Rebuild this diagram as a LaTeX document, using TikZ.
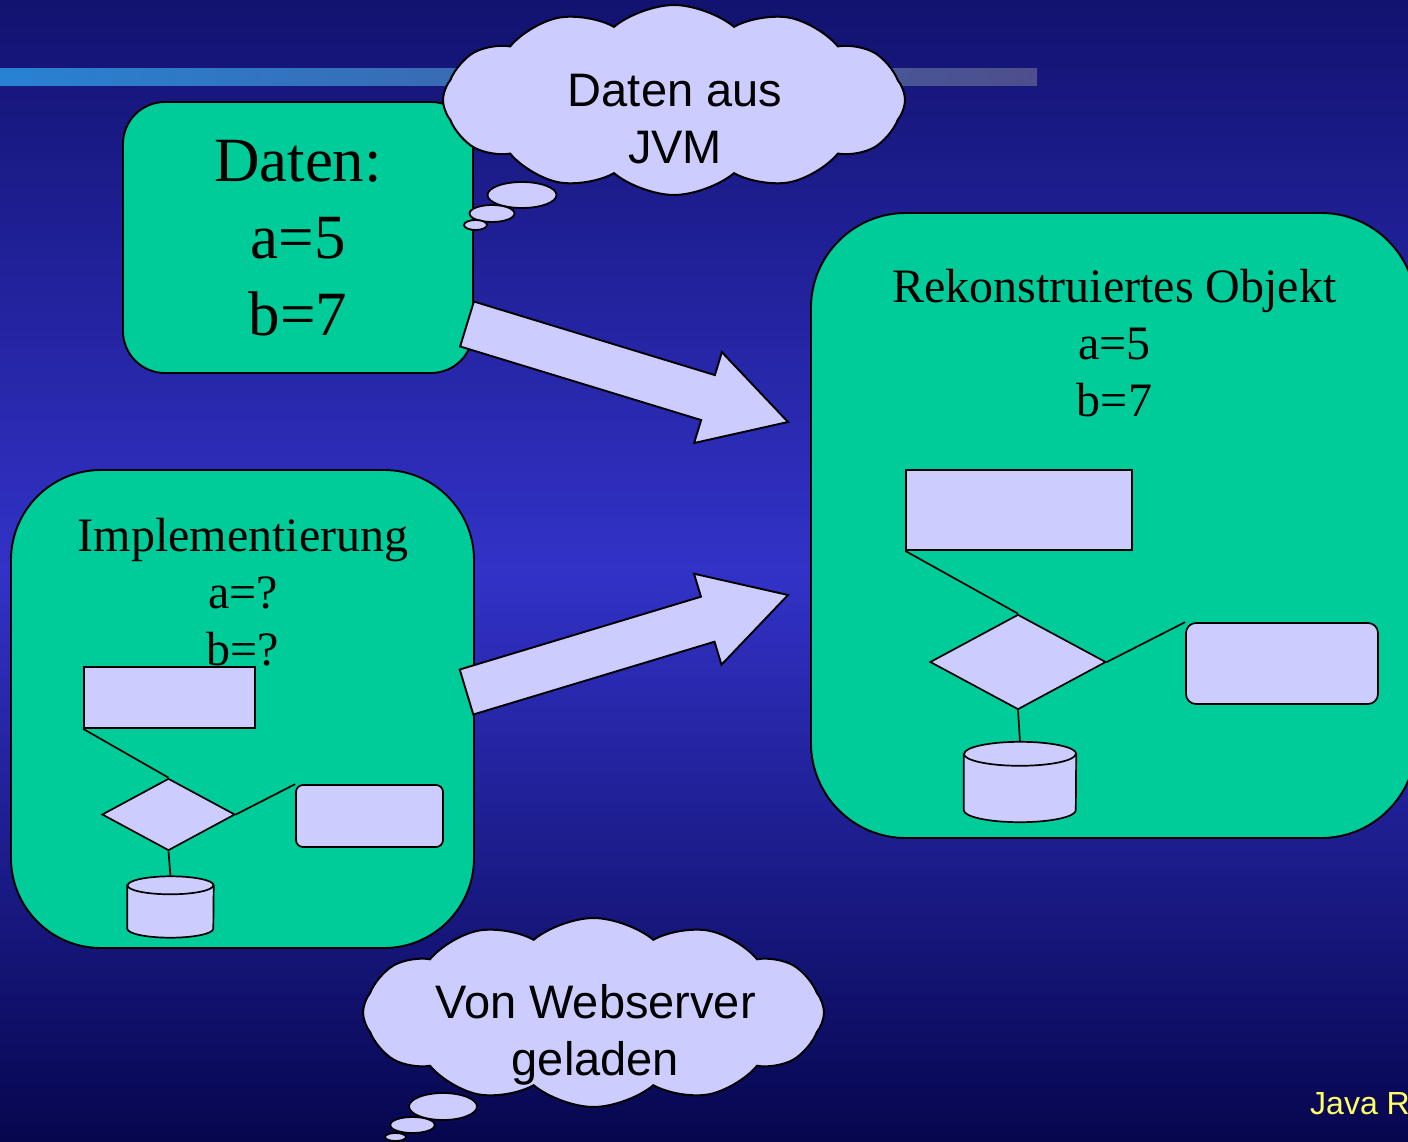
\documentclass[tikz,border=0pt]{standalone}
\usepackage{fontspec}
\setmainfont{Liberation Serif}
\setsansfont{Liberation Sans}
\usetikzlibrary{shapes.geometric, shapes.symbols, calc}
\definecolor{hgoben}{RGB}{18,18,112}
\definecolor{hgmitte}{RGB}{50,50,200}
\definecolor{hgunten}{RGB}{6,6,78}
\definecolor{tuerkis}{HTML}{00CC99}
\definecolor{lila}{HTML}{CCCCFF}
\definecolor{gelb}{RGB}{255,255,102}
\definecolor{streifenL}{RGB}{40,130,210}
\definecolor{streifenR}{RGB}{78,78,140}

\begin{document}
\begin{tikzpicture}[x=1pt, y=-1pt,
  box/.style={rectangle, draw=black, fill=tuerkis, line width=1.9pt, inner sep=0pt},
  boxtext/.style={align=center, inner sep=0pt, text=black},
  fbox/.style={rectangle, draw=black, fill=lila, line width=1.7pt, inner sep=0pt},
  fraute/.style={diamond, draw=black, fill=lila, line width=1.7pt, inner sep=0pt},
  fzylrahmen/.style={rectangle, inner sep=0pt},
  fzyl/.style={draw=black, fill=lila, line width=1.7pt},
  fline/.style={draw=black, line width=1.7pt},
  pfeil/.style={draw=black, fill=lila, line width=1.9pt, line join=miter},
  wolke/.style={cloud, cloud puffs=12, cloud puff arc=80, cloud ignores aspect, draw=black, fill=lila, line width=2pt, inner sep=0pt},
  blase/.style={ellipse, draw=black, fill=lila, line width=1.8pt, inner sep=0pt},
  wolketext/.style={align=center, inner sep=0pt, font=\sffamily\fontsize{47}{57}\selectfont}
]
\useasboundingbox (0,0) rectangle (1408,1142);
% Hintergrund
\fill[top color=hgoben, bottom color=hgunten, middle color=hgmitte] (0,0) rectangle (1408,1142);
\fill[left color=streifenL, right color=streifenR] (0,69) rectangle (1037,86);

% Daten
\node[box, rounded corners=42pt, minimum width=350pt, minimum height=271pt] (daten) at (298,237.5) {};
\node[boxtext, font=\fontsize{63}{77}\selectfont] (datentxt) at (298,238) {Daten:\\a=5\\b=7};

% Rekonstruiertes Objekt
\node[box, rounded corners=95pt, minimum width=605pt, minimum height=625pt] (rekon) at (1113.5,525.5) {};
\node[boxtext, font=\fontsize{48}{57}\selectfont] (rekontxt) at (1114.5,343) {Rekonstruiertes Objekt\\a=5\\b=7};
\node[fbox, minimum width=226pt, minimum height=80pt] (rkasten) at (1019,510) {};
\node[fraute, minimum width=176pt, minimum height=95pt] (rraute) at (1018,662) {};
\node[fbox, rounded corners=10pt, minimum width=192pt, minimum height=81pt] (rrund) at (1282,663.5) {};
\node[fzylrahmen, minimum width=112pt, minimum height=80pt] (rzyl) at (1020,782) {};
\draw[fline] (rkasten.south west) -- (rraute.north);
\draw[fline] (rraute.east) -- (rrund.north west);
\draw[fline] (rraute.south) -- (rzyl.north);

% Implementierung
\node[box, rounded corners=90pt, minimum width=463pt, minimum height=478pt] (impl) at (242.5,709) {};
\node[boxtext, font=\fontsize{48}{57}\selectfont] (impltxt) at (243,592) {Implementierung\\a=?\\b=?};
\node[fbox, minimum width=171pt, minimum height=61pt] (lkasten) at (169.5,697.5) {};
\node[fraute, minimum width=133pt, minimum height=72pt] (lraute) at (168.5,814.5) {};
\node[fbox, rounded corners=7pt, minimum width=147pt, minimum height=62pt] (lrund) at (369.5,816) {};
\node[fzylrahmen, minimum width=86pt, minimum height=61pt] (lzyl) at (170.5,907) {};
\draw[fline] (lkasten.south west) -- (lraute.north);
\draw[fline] (lraute.east) -- (lrund.north west);
\draw[fline] (lraute.south) -- (lzyl.north);

% Zylinder
\foreach \z/\rx/\ry in {rzyl/56/12, lzyl/43/9} {
  \draw[fzyl] ($(\z.north west)+(0,\ry)$) -- ($(\z.south west)+(0,-\ry)$)
    arc[start angle=180, end angle=360, x radius=\rx pt, y radius=\ry pt]
    -- ($(\z.north east)+(0,\ry)$)
    arc[start angle=0, end angle=180, x radius=\rx pt, y radius=\ry pt] -- cycle;
  \draw[fline] ($(\z.north west)+(0,\ry)$) arc[start angle=180, end angle=360, x radius=\rx pt, y radius=\ry pt];
}

% Pfeile
\coordinate (pfeilA1) at (467,324);
\coordinate (pfeilA2) at (788,422);
\coordinate (pfeilB1) at (466.5,692);
\coordinate (pfeilB2) at (788,595);
\foreach \a/\b in {pfeilA1/pfeilA2, pfeilB1/pfeilB2} {
  \coordinate (k) at ($(\a)!252pt!(\b)$);
  \draw[pfeil] ($(\a)!23.5pt!90:(\b)$) -- ($(k)!23.5pt!-90:(\a)$) -- ($(k)!47.5pt!-90:(\a)$) -- (\b)
    -- ($(k)!47.5pt!90:(\a)$) -- ($(k)!23.5pt!90:(\a)$) -- ($(\a)!23.5pt!-90:(\b)$) -- cycle;
}

% Wolken
\node[wolke, minimum width=462pt, minimum height=190pt] (wolke1) at (674,100) {};
\node[wolketext] (wolke1txt) at (675,119) {Daten aus\\JVM};
\node[blase, minimum width=69pt, minimum height=26pt] (blase1a) at (522,195) {};
\node[blase, minimum width=45pt, minimum height=17pt] (blase1b) at (492,213.5) {};
\node[blase, minimum width=23pt, minimum height=10pt] (blase1c) at (475.5,225) {};

\node[wolke, minimum width=461pt, minimum height=189pt] (wolke2) at (593.5,1012.5) {};
\node[wolketext] (wolke2txt) at (595.5,1034.5) {Von Webserver\\geladen};
\node[blase, minimum width=68pt, minimum height=27pt] (blase2a) at (443,1106.5) {};
\node[blase, minimum width=45pt, minimum height=16pt] (blase2b) at (412.5,1125) {};
\node[blase, minimum width=21pt, minimum height=8pt] (blase2c) at (395.5,1137) {};

% Fusszeile
\node[anchor=base west, inner sep=0pt, text=gelb, font=\sffamily\fontsize{32}{38}\selectfont] (fuss) at (1310,1114) {Java R};
\end{tikzpicture}
\end{document}
